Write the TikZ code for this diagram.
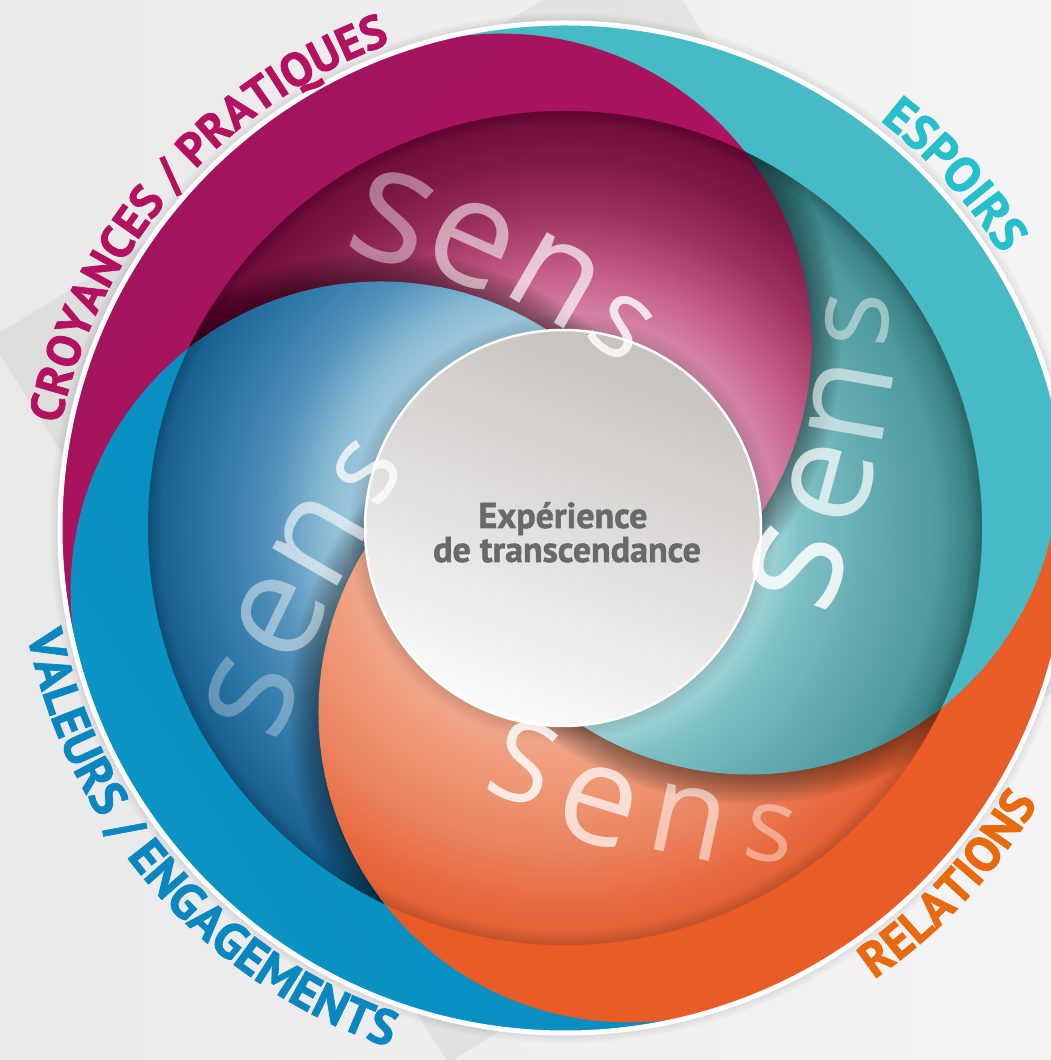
\documentclass[tikz,border=0pt]{standalone}
\usepackage{fontspec}
\usetikzlibrary{calc,decorations.text}
\newfontfamily\lblfont{PT Sans}[BoldFeatures={FakeBold=1.5}]
\newfontfamily\sensfont{Open Sans}
\definecolor{bgL}{HTML}{E9E9E9}
\definecolor{bgR}{HTML}{F4F4F4}
\definecolor{magflatA}{HTML}{A1155E}
\definecolor{magflatB}{HTML}{CA0D60}
\definecolor{tealflat}{HTML}{46BAC5}
\definecolor{orflat}{HTML}{E95B27}
\definecolor{blueflatA}{HTML}{067EBD}
\definecolor{blueflatB}{HTML}{0A94C3}
\definecolor{m1}{HTML}{DA8CAE}\definecolor{m2}{HTML}{C35C86}
\definecolor{m3}{HTML}{9C3160}\definecolor{m4}{HTML}{801A49}\definecolor{m5}{HTML}{6C0B39}
\definecolor{t1}{HTML}{A6D9DD}\definecolor{t2}{HTML}{7FC1C5}
\definecolor{t3}{HTML}{65ADB1}\definecolor{t4}{HTML}{4D9A9E}\definecolor{t5}{HTML}{32787B}
\definecolor{o1}{HTML}{F1A98E}\definecolor{o2}{HTML}{EF9A79}
\definecolor{o3}{HTML}{EB8460}\definecolor{o4}{HTML}{E86B40}\definecolor{o5}{HTML}{E15E30}
\definecolor{b1}{HTML}{A2CBE0}\definecolor{b2}{HTML}{8ABBD5}
\definecolor{b3}{HTML}{5592BB}\definecolor{b4}{HTML}{3079A8}\definecolor{b5}{HTML}{155C8C}
\definecolor{icTop}{HTML}{C6C2BE}\definecolor{icMid}{HTML}{E6E4E2}\definecolor{icBot}{HTML}{FAFAFA}
\definecolor{labmag}{HTML}{B3125F}\definecolor{labteal}{HTML}{27BFCC}
\definecolor{labor}{HTML}{E86A0E}\definecolor{labblue}{HTML}{0B87BF}
\definecolor{ctext}{HTML}{68696B}
% radial shadings drawn on a circle of radius 417: 25bp = 417
\pgfdeclareradialshading{magsh}{\pgfpointorigin}{color(0bp)=(m1); color(12bp)=(m1); color(15.5bp)=(m2); color(19bp)=(m3); color(22bp)=(m4); color(25bp)=(m5); color(50bp)=(m5)}
\pgfdeclareradialshading{tealsh}{\pgfpointorigin}{color(0bp)=(t1); color(12bp)=(t1); color(14.2bp)=(t2); color(18bp)=(t3); color(22.5bp)=(t4); color(25bp)=(t5); color(50bp)=(t5)}
\pgfdeclareradialshading{orsh}{\pgfpointorigin}{color(0bp)=(o1); color(12bp)=(o1); color(15bp)=(o2); color(19bp)=(o3); color(22.5bp)=(o4); color(25bp)=(o5); color(50bp)=(o5)}
\pgfdeclareradialshading{bluesh}{\pgfpointorigin}{color(0bp)=(b1); color(12bp)=(b1); color(14.5bp)=(b2); color(17.5bp)=(b3); color(21bp)=(b4); color(25bp)=(b5); color(50bp)=(b5)}
% #1 disc centre, #2 start angle of sector, #3 flat fill options, #4 shading
\newcommand\drawelem[4]{%
\begin{scope}
\clip (#1) circle (310) (W) -- ($(W)+(#2:520)$) arc[start angle=#2, delta angle=90, radius=520] -- cycle;
\path[#3,even odd rule] (W) circle (520) (W) circle (413);
\clip (W) circle (417);
\shade[shading=#4] (W) circle (417);
\foreach \w in {4,8,...,24} {\draw[black,opacity=0.02,line width=\w] (W) circle (417);}
\end{scope}}
% shadow of disc #1 falling only inside the region of disc #2 / sector #3
\newcommand\dshadow[3]{%
\begin{scope}
\clip (W) circle (417);
\clip (#2) circle (310) (W) -- ($(W)+(#3:520)$) arc[start angle=#3, delta angle=90, radius=520] -- cycle;
\foreach \w in {3,6,...,60} {\draw[black,opacity=0.022,line width=\w] (#1) circle (310);}
\end{scope}}
% #1 name, #2 position, #3 rotation, #4 size, #5 letter, #6 opacity
\newcommand\sensletter[6]{%
\node[sensl,text opacity=#6,rotate=#3,font=\sensfont\fontsize{#4}{#4}\selectfont] (#1) at (#2) {#5};}
\tikzset{
  magflat/.style={left color=magflatA,right color=magflatB,shading angle=39},
  blueflat/.style={left color=blueflatA,right color=blueflatB,shading angle=-59},
  sensl/.style={text=white,inner sep=0pt},
  lbl/.style={decorate},
}
\begin{document}
\begin{tikzpicture}[x=1pt,y=1pt]
\useasboundingbox (0,0) rectangle (1051,1060);
\clip (0,0) rectangle (1051,1060);
\shade[left color=bgL,right color=bgR] (0,0) rectangle (1051,1060);
\fill[black,opacity=0.05] (-10,721) -- (643,1122) -- (1101,398) -- (448,-3) -- cycle;
\coordinate (W) at (565,532);
\coordinate (C) at (563,532);
\coordinate (Dm) at ($(W)+(109:195)$);
\coordinate (Dt) at ($(W)+(19:195)$);
\coordinate (Do) at ($(W)+(-71:195)$);
\coordinate (Db) at ($(W)+(199:195)$);
\foreach \w in {4,8,12,16} {\draw[black,opacity=0.02,line width=\w] (W) circle (507);}
\begin{scope}
\clip (W) circle (505);
\drawelem{Dm}{109}{magflat}{magsh}
\dshadow{Db}{Dm}{109}
\drawelem{Db}{199}{blueflat}{bluesh}
\dshadow{Do}{Db}{199}
\drawelem{Do}{-71}{fill=orflat}{orsh}
\dshadow{Dt}{Do}{-71}
\drawelem{Dt}{19}{fill=tealflat}{tealsh}
% magenta over teal
\begin{scope}
\clip (Dt) circle (310) (W) -- ($(W)+(15:520)$) arc[start angle=15, delta angle=98, radius=520] -- cycle;
\dshadow{Dm}{Dt}{19}
\drawelem{Dm}{109}{magflat}{magsh}
\dshadow{Db}{Dm}{109}
\end{scope}
% blue over magenta again, with a wider clip
\begin{scope}
\clip (Dt) circle (310) (W) -- ($(W)+(12:520)$) arc[start angle=12, delta angle=106, radius=520] -- cycle;
\clip (Dm) circle (310) (W) -- ($(W)+(109:520)$) arc[start angle=109, delta angle=90, radius=520] -- cycle;
\drawelem{Db}{199}{blueflat}{bluesh}
\end{scope}
\end{scope}
% inner circle
\foreach \w in {4,8,...,32} {\draw[black,opacity=0.015,line width=\w] (C) circle (198);}
\shade[top color=icTop,middle color=icMid,bottom color=icBot,shading angle=-20] (C) circle (198);
\draw[white,line width=2.5] (C) circle (198);
\draw[white,line width=5] (W) circle (505);
% labels
\path[lbl,decoration={text along path,text color=labmag,text align=center,
  text={|\lblfont\bfseries\fontsize{47}{47}\selectfont|CROYANCES / PRATIQUES}}]
  ($(W)+(179.1:515)$) arc[start angle=179.1,end angle=99.1,radius=515];
\path[lbl,decoration={text along path,text color=labteal,text align=center,
  text={|\lblfont\bfseries\fontsize{49}{49}\selectfont|ESPOIRS}}]
  ($(W)+(82.2:515)$) arc[start angle=82.2,end angle=2.2,radius=515];
\path[lbl,decoration={text along path,text color=labor,text align=center,
  text={|\lblfont\bfseries\fontsize{49}{49}\selectfont|RELATIONS}}]
  ($(W)+(-82.9:547)$) arc[start angle=-82.9,end angle=-2.9,radius=547];
\path[lbl,decoration={text along path,text color=labblue,text align=center,
  text={|\lblfont\bfseries\fontsize{50}{50}\selectfont|VALEURS / ENGAGEMENTS}}]
  ($(W)+(176.2:548)$) arc[start angle=176.2,end angle=266.2,radius=548];
% centre text
\node[anchor=base,text=ctext,font=\lblfont\bfseries\fontsize{36}{36}\selectfont,inner sep=0pt] (t1) at (563,532) {Expérience};
\node[anchor=base,text=ctext,font=\lblfont\bfseries\fontsize{36}{36}\selectfont,inner sep=0pt] (t2) at (567,498) {de transcendance};
% sens letters
\coordinate (pms1) at (393,842); \coordinate (pme) at (471,816); \coordinate (pmn) at (556,780); \coordinate (pms2) at (621,733);
\coordinate (pts1) at (798,493); \coordinate (pte) at (832,577); \coordinate (ptn) at (850,657); \coordinate (pts2) at (857,740);
\coordinate (pos1) at (524,298); \coordinate (poe) at (598,254); \coordinate (pon) at (688,238); \coordinate (pos2) at (770,227);
\coordinate (pbs1) at (252,363); \coordinate (pbe) at (280,443); \coordinate (pbn) at (320,520); \coordinate (pbs2) at (367,588);
\sensletter{ms1}{pms1}{-20}{165}{s}{0.42}
\sensletter{me}{pme}{-24}{150}{e}{0.55}
\sensletter{mn}{pmn}{-30}{140}{n}{0.68}
\sensletter{ms2}{pms2}{-36}{112}{s}{0.8}
\sensletter{ts1}{pts1}{70}{165}{s}{0.85}
\sensletter{te}{pte}{75}{145}{e}{0.72}
\sensletter{tn}{ptn}{80}{140}{n}{0.58}
\sensletter{ts2}{pts2}{86}{116}{s}{0.45}
\sensletter{os1}{pos1}{-20}{112}{S}{0.82}
\sensletter{oe}{poe}{-17}{140}{e}{0.7}
\sensletter{on}{pon}{-12}{126}{n}{0.55}
\sensletter{os2}{pos2}{-10}{104}{s}{0.42}
\sensletter{bs1}{pbs1}{68}{155}{s}{0.3}
\sensletter{be}{pbe}{64}{145}{e}{0.45}
\sensletter{bn}{pbn}{60}{140}{n}{0.6}
\sensletter{bs2}{pbs2}{55}{112}{s}{0.75}
\end{tikzpicture}
\end{document}
